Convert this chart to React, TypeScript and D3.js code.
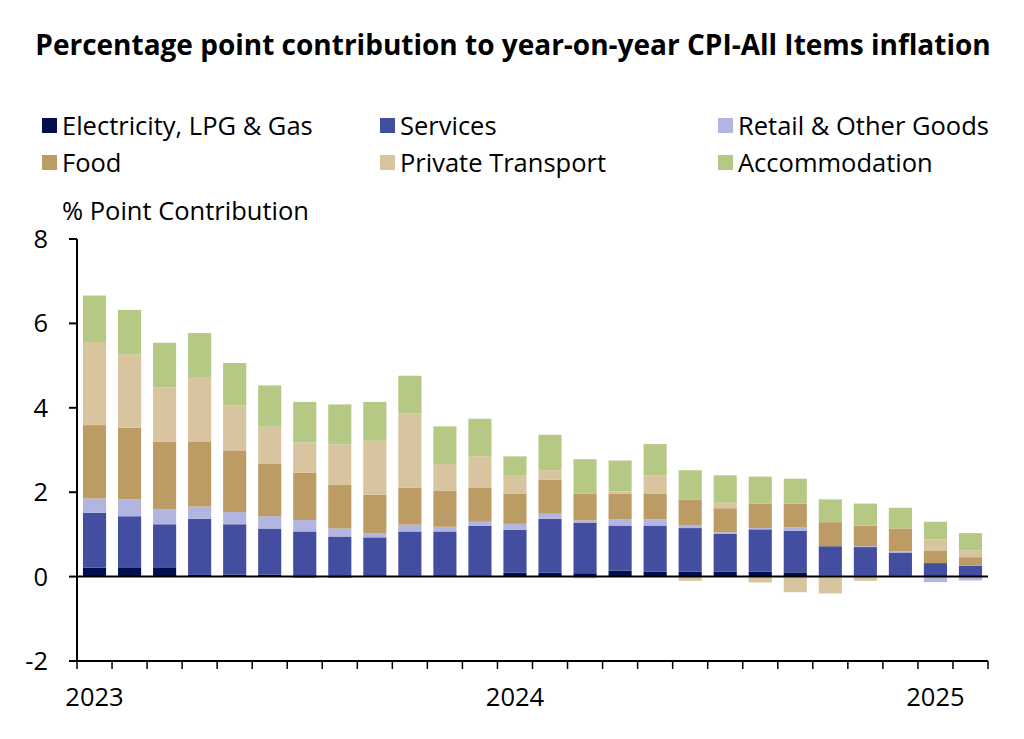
import React from 'react'
import * as d3 from 'd3'

const months = [
  'Jan-23', 'Feb-23', 'Mar-23', 'Apr-23', 'May-23', 'Jun-23', 'Jul-23', 'Aug-23', 'Sep-23',
  'Oct-23', 'Nov-23', 'Dec-23', 'Jan-24', 'Feb-24', 'Mar-24', 'Apr-24', 'May-24', 'Jun-24',
  'Jul-24', 'Aug-24', 'Sep-24', 'Oct-24', 'Nov-24', 'Dec-24', 'Jan-25', 'Feb-25'
]

const yearLabels = [
  { month: 'Jan-23', label: '2023' },
  { month: 'Jan-24', label: '2024' },
  { month: 'Jan-25', label: '2025' }
]

const electricity = [0.21, 0.22, 0.22, 0.04, 0.05, 0.05, -0.02, -0.02, 0.01, 0.02, 0.01, 0.01, 0.09, 0.09, 0.08, 0.14, 0.12, 0.12, 0.12, 0.12, 0.10, 0.02, 0.02, 0.02, 0.01, 0.01]
const services = [1.30, 1.21, 1.02, 1.33, 1.19, 1.09, 1.07, 0.95, 0.92, 1.05, 1.06, 1.19, 1.02, 1.28, 1.20, 1.07, 1.09, 1.03, 0.89, 1.00, 0.99, 0.70, 0.68, 0.55, 0.31, 0.25]
const retail = [0.34, 0.40, 0.35, 0.29, 0.29, 0.29, 0.27, 0.19, 0.10, 0.16, 0.11, 0.10, 0.14, 0.12, 0.05, 0.15, 0.15, 0.06, 0.04, 0.03, 0.08, 0.00, 0.02, 0.03, -0.13, -0.09]
const food = [1.74, 1.70, 1.61, 1.53, 1.46, 1.24, 1.12, 1.03, 0.91, 0.88, 0.86, 0.80, 0.72, 0.81, 0.64, 0.61, 0.61, 0.61, 0.57, 0.58, 0.56, 0.57, 0.49, 0.54, 0.30, 0.20]
const transport = [1.97, 1.73, 1.28, 1.54, 1.07, 0.88, 0.72, 0.96, 1.28, 1.76, 0.63, 0.75, 0.42, 0.22, -0.04, 0.05, 0.43, -0.10, 0.13, -0.14, -0.37, -0.40, -0.10, 0.00, 0.26, 0.16]
const accommodation = [1.10, 1.06, 1.06, 1.04, 1.00, 0.98, 0.96, 0.95, 0.92, 0.89, 0.89, 0.89, 0.46, 0.84, 0.81, 0.73, 0.74, 0.70, 0.65, 0.64, 0.59, 0.54, 0.52, 0.49, 0.42, 0.41]

const seriesNames = ['Electricity, LPG & Gas', 'Services', 'Retail & Other Goods', 'Food', 'Private Transport', 'Accommodation']
const seriesColors = ['#020f4f', '#434ea1', '#b2b5df', '#bd9b65', '#d8c49f', '#b5c884']
const seriesValues = [electricity, services, retail, food, transport, accommodation]

const yTicks = [-2, 0, 2, 4, 6, 8]

const FONT = '"Open Sans", Lato, sans-serif'
const FS = 25.5

export default function App() {
  const margin = { left: 77, right: 988, top: 239, bottom: 661 }

  const x = d3.scaleBand<string>()
    .domain(months)
    .range([margin.left, margin.right])
    .paddingInner(0.34)
    .paddingOuter(0.17)

  const y = d3.scaleLinear()
    .domain([-2, 8])
    .range([margin.bottom, margin.top])

  const rows = months.map((m, i) => {
    const row: Record<string, number | string> = { month: m }
    seriesNames.forEach((s, k) => { row[s] = seriesValues[k][i] })
    return row
  })

  const stacked = d3.stack<Record<string, number | string>>()
    .keys(seriesNames)
    .value((d, key) => d[key] as number)
    .offset(d3.stackOffsetDiverging)(rows)

  const step = (margin.right - margin.left) / months.length
  const tickXs = d3.range(months.length + 1).map(i => margin.left + i * step)

  const legendCols = [42, 380, 718]
  const legendRows = [126, 163]

  return (
    <svg width={1024} height={739} style={{ position: 'absolute', left: 0, top: 0, background: '#fff' }}>
      <text x={513} y={55} textAnchor="middle" fontFamily={FONT} fontWeight="bold" fontSize={28} fill="#000">
        Percentage point contribution to year-on-year CPI-All Items inflation
      </text>

      {/* legend */}
      {seriesNames.map((s, k) => {
        const lx = legendCols[k % 3]
        const ly = legendRows[Math.floor(k / 3)]
        return (
          <g key={s}>
            <rect x={lx} y={ly - 8} width={15} height={15} fill={seriesColors[k]} />
            <text x={lx + 20} y={ly + 9} fontFamily={FONT} fontSize={FS} fill="#000">{s}</text>
          </g>
        )
      })}

      <text x={62} y={220} fontFamily={FONT} fontSize={FS} fill="#000">% Point Contribution</text>

      {/* bars */}
      {stacked.map((layer, k) => (
        <g key={layer.key} fill={seriesColors[k]}>
          {layer.map((d, i) => {
            const y0 = y(d[0])
            const y1 = y(d[1])
            if (Math.abs(y0 - y1) < 0.01) return null
            return (
              <rect
                key={i}
                x={x(months[i])}
                y={Math.min(y0, y1)}
                width={x.bandwidth()}
                height={Math.abs(y0 - y1)}
              />
            )
          })}
        </g>
      ))}

      {/* zero line */}
      <line x1={margin.left} x2={margin.right} y1={y(0)} y2={y(0)} stroke="#000" strokeWidth={2} />

      {/* y axis */}
      <line x1={margin.left} x2={margin.left} y1={margin.top} y2={margin.bottom} stroke="#000" strokeWidth={2} />
      {yTicks.map(t => (
        <g key={t}>
          <line x1={margin.left - 8} x2={margin.left} y1={y(t)} y2={y(t)} stroke="#000" strokeWidth={2} />
          <text x={48} y={y(t) + 9} textAnchor="end" fontFamily={FONT} fontSize={FS} fill="#000">{t}</text>
        </g>
      ))}

      {/* x axis */}
      <line x1={margin.left - 8} x2={margin.right} y1={margin.bottom} y2={margin.bottom} stroke="#000" strokeWidth={2} />
      {tickXs.map((tx, i) => (
        <line key={i} x1={tx} x2={tx} y1={margin.bottom} y2={margin.bottom + 8} stroke="#000" strokeWidth={1.5} />
      ))}
      {yearLabels.map(yl => (
        <text
          key={yl.label}
          x={(x(yl.month) ?? 0) + x.bandwidth() / 2}
          y={706}
          textAnchor="middle"
          fontFamily={FONT}
          fontSize={FS}
          fill="#000"
        >
          {yl.label}
        </text>
      ))}
    </svg>
  )
}
